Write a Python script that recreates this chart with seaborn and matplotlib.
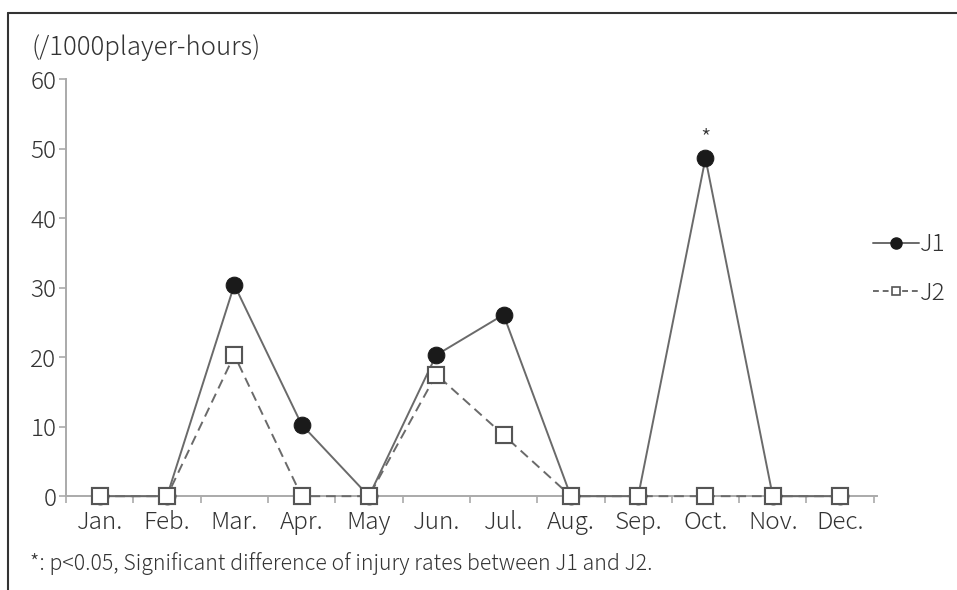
import numpy as np
import pandas as pd
import seaborn as sns
import matplotlib.pyplot as plt
from matplotlib.lines import Line2D

months = ["Jan.", "Feb.", "Mar.", "Apr.", "May", "Jun.",
          "Jul.", "Aug.", "Sep.", "Oct.", "Nov.", "Dec."]
j1_rates = [0, 0, 30.4, 10.3, 0, 20.3, 26.1, 0, 0, 48.6, 0, 0]
j2_rates = [0, 0, 20.3, 0, 0, 17.5, 8.8, 0, 0, 0, 0, 0]
y_ticks = [0, 10, 20, 30, 40, 50, 60]
significant_month = "Oct."
unit_label = "(/1000player-hours)"
footnote = "*: p<0.05, Significant difference of injury rates between J1 and J2."

sns.set_theme(style="white")
plt.rcParams["font.family"] = ["Noto Sans CJK JP", "DejaVu Sans"]
plt.rcParams["font.weight"] = "light"

text_c = "#333333"
line_c = "#6a6a6a"
axis_c = "#aaaaaa"
edge_c = "#555555"

pos = np.arange(len(months))
df1 = pd.DataFrame({"pos": pos, "rate": j1_rates})
df2 = pd.DataFrame({"pos": pos, "rate": j2_rates})

fig = plt.figure(figsize=(9.57, 5.90), dpi=100)
ax = fig.add_axes([0.069, 0.159, 0.844, 0.707])

sns.lineplot(data=df2, x="pos", y="rate", ax=ax, color=line_c, lw=1.4,
             linestyle=(0, (5, 3)), marker="s", markersize=12,
             markerfacecolor="white", markeredgecolor=edge_c,
             markeredgewidth=1.5, zorder=3)
sns.lineplot(data=df1, x="pos", y="rate", ax=ax, color=line_c, lw=1.4,
             marker="o", markersize=12, markerfacecolor="#1a1a1a",
             markeredgecolor="#1a1a1a", zorder=4)
# J2 zero markers drawn over the J1 line
ax.plot(pos, j2_rates, ls="none", marker="s", markersize=12,
        markerfacecolor="white", markeredgecolor=edge_c,
        markeredgewidth=1.5, zorder=5)

ax.set_xlim(-0.5, len(months) - 0.5)
ax.set_ylim(0, 60)
ax.set_xlabel("")
ax.set_ylabel("")

ax.set_xticks(pos)
ax.set_xticklabels(months)
ax.set_xticks(np.arange(len(months) + 1) - 0.5, minor=True)
ax.tick_params(axis="x", which="major", length=0, pad=10,
               labelsize=17.5, labelcolor=text_c)
ax.tick_params(axis="x", which="minor", length=5, width=1.2,
               color=axis_c, direction="out", bottom=True)
ax.set_yticks(y_ticks)
ax.tick_params(axis="y", length=5, width=1.2, color=axis_c,
               direction="out", left=True, pad=2,
               labelsize=17.5, labelcolor=text_c)

for side in ["top", "right"]:
    ax.spines[side].set_visible(False)
for side in ["left", "bottom"]:
    ax.spines[side].set_color(axis_c)
    ax.spines[side].set_linewidth(1.4)
ax.spines["bottom"].set_bounds(-0.5, len(months) - 0.45)
for ln in ax.lines:
    ln.set_clip_on(False)

# significance mark
sig_i = months.index(significant_month)
ax.annotate("*", xy=(sig_i, j1_rates[sig_i]), xytext=(0, 5),
            textcoords="offset points", ha="center", va="bottom",
            fontsize=17, color=text_c)

# legend
handles = [
    Line2D([], [], color=line_c, lw=1.4, marker="o", markersize=8,
           markerfacecolor="#1a1a1a", markeredgecolor="#1a1a1a"),
    Line2D([], [], color=line_c, lw=1.4, linestyle=(0, (3, 2)), marker="s",
           markersize=6, markerfacecolor="white",
           markeredgecolor=edge_c, markeredgewidth=1.2),
]
fig.legend(handles, ["J1", "J2"], loc="center left",
           bbox_to_anchor=(0.907, 0.544), frameon=False, fontsize=17.5,
           handlelength=1.9, handletextpad=0.05, labelspacing=0.95,
           borderpad=0.2, borderaxespad=0.0, labelcolor=text_c)

fig.text(0.033, 0.906, unit_label, fontsize=18.5, color=text_c,
         ha="left", va="baseline")
fig.text(0.031, 0.034, footnote, fontsize=15.3, color=text_c,
         ha="left", va="baseline")

# outer frame lines along the top and left edges
fx = 8 / 957
fy = 1 - 13 / 590
fig.add_artist(Line2D([fx, 1.0], [fy, fy], transform=fig.transFigure,
                      color="#333333", lw=1.5))
fig.add_artist(Line2D([fx, fx], [0.0, fy], transform=fig.transFigure,
                      color="#333333", lw=1.5))

fig.savefig("out.png", dpi=100)
